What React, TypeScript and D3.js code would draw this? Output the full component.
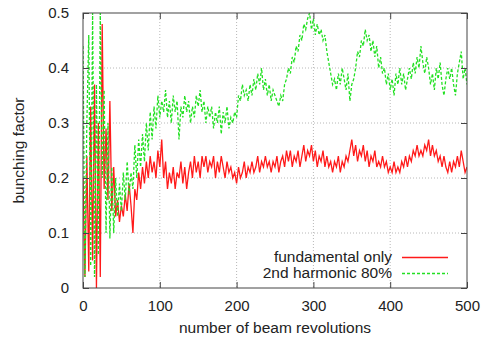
import React, { useEffect, useRef } from 'react'
import * as d3 from 'd3'

// revolutions sampled every 2.5
const revolutions = d3.range(0, 500.01, 2.5)

const fundamentalOnly = [
  0.20, 0.02, 0.24, 0.03, 0.33, 0.05, 0.37, 0.00, 0.30, 0.02,
  0.48, 0.18, 0.29, 0.16, 0.34, 0.14, 0.22, 0.13, 0.16, 0.12,
  0.15, 0.13, 0.17, 0.14, 0.19, 0.15, 0.10, 0.18, 0.16, 0.21,
  0.18, 0.22, 0.19, 0.23, 0.20, 0.24, 0.21, 0.23, 0.20, 0.25,
  0.22, 0.27, 0.20, 0.23, 0.18, 0.21, 0.19, 0.22, 0.18, 0.21,
  0.20, 0.23, 0.19, 0.22, 0.18, 0.21, 0.23, 0.20, 0.24, 0.21,
  0.23, 0.20, 0.24, 0.22, 0.24, 0.21, 0.23, 0.22, 0.24, 0.20,
  0.23, 0.21, 0.24, 0.22, 0.20, 0.23, 0.21, 0.22, 0.20, 0.21,
  0.19, 0.22, 0.20, 0.21, 0.23, 0.20, 0.22, 0.21, 0.23, 0.21,
  0.22, 0.24, 0.21, 0.23, 0.22, 0.24, 0.22, 0.23, 0.21, 0.23,
  0.22, 0.24, 0.21, 0.23, 0.24, 0.22, 0.25, 0.23, 0.25, 0.22,
  0.24, 0.23, 0.25, 0.22, 0.24, 0.26, 0.23, 0.25, 0.24, 0.26,
  0.23, 0.25, 0.22, 0.24, 0.23, 0.25, 0.22, 0.24, 0.22, 0.23,
  0.21, 0.23, 0.22, 0.24, 0.21, 0.23, 0.22, 0.24, 0.23, 0.25,
  0.27, 0.24, 0.26, 0.23, 0.25, 0.24, 0.26, 0.23, 0.25, 0.22,
  0.24, 0.23, 0.25, 0.22, 0.23, 0.22, 0.24, 0.22, 0.23, 0.21,
  0.22, 0.21, 0.23, 0.21, 0.22, 0.21, 0.23, 0.22, 0.24, 0.22,
  0.24, 0.23, 0.25, 0.24, 0.26, 0.24, 0.25, 0.24, 0.26, 0.25,
  0.27, 0.24, 0.26, 0.24, 0.25, 0.23, 0.24, 0.22, 0.24, 0.22,
  0.21, 0.23, 0.21, 0.23, 0.22, 0.24, 0.22, 0.25, 0.23, 0.21,
  0.22
]

const secondHarmonic = [
  0.44, 0.02, 0.30, 0.46, 0.04, 0.50, 0.02, 0.37, 0.06, 0.50,
  0.20, 0.36, 0.10, 0.30, 0.09, 0.22, 0.10, 0.20, 0.13, 0.19,
  0.14, 0.21, 0.16, 0.23, 0.17, 0.21, 0.18, 0.26, 0.20, 0.27,
  0.22, 0.28, 0.23, 0.30, 0.25, 0.32, 0.27, 0.33, 0.29, 0.35,
  0.31, 0.34, 0.32, 0.36, 0.31, 0.34, 0.30, 0.35, 0.32, 0.34,
  0.27, 0.33, 0.31, 0.35, 0.32, 0.34, 0.30, 0.33, 0.31, 0.35,
  0.33, 0.36, 0.32, 0.34, 0.30, 0.33, 0.31, 0.33, 0.29, 0.32,
  0.30, 0.33, 0.28, 0.32, 0.30, 0.33, 0.29, 0.31, 0.30, 0.32,
  0.31, 0.35, 0.34, 0.37, 0.35, 0.36, 0.34, 0.37, 0.35, 0.38,
  0.36, 0.39, 0.37, 0.40, 0.36, 0.38, 0.35, 0.37, 0.34, 0.36,
  0.35, 0.34, 0.33, 0.35, 0.34, 0.37, 0.38, 0.40, 0.39, 0.42,
  0.41, 0.44, 0.43, 0.46, 0.45, 0.48, 0.47, 0.49, 0.50, 0.47,
  0.49, 0.46, 0.48, 0.46, 0.47, 0.45, 0.46, 0.43, 0.41, 0.39,
  0.37, 0.38, 0.36, 0.39, 0.37, 0.40, 0.38, 0.36, 0.39, 0.34,
  0.37, 0.38, 0.40, 0.43, 0.42, 0.45, 0.44, 0.47, 0.45, 0.46,
  0.43, 0.45, 0.42, 0.44, 0.40, 0.42, 0.39, 0.40, 0.37, 0.39,
  0.36, 0.38, 0.35, 0.39, 0.37, 0.40, 0.37, 0.39, 0.36, 0.38,
  0.40, 0.38, 0.41, 0.39, 0.42, 0.40, 0.44, 0.41, 0.39, 0.42,
  0.40, 0.37, 0.39, 0.36, 0.40, 0.38, 0.41, 0.37, 0.35, 0.38,
  0.40, 0.38, 0.40, 0.37, 0.35, 0.39, 0.41, 0.43, 0.38, 0.40,
  0.37
]

const xTicks = [0, 100, 200, 300, 400, 500]
const yTicks = [0, 0.1, 0.2, 0.3, 0.4, 0.5]
const seriesNames = ['fundamental only', '2nd harmonic 80%']

const font = '"Liberation Sans", Arial, Helvetica, sans-serif'

function Chart() {
  const ref = useRef<SVGSVGElement>(null)

  useEffect(() => {
    const width = 487
    const height = 338
    const margins = { t: 13, r: 20, b: 50, l: 83 }
    const plotwidth = width - margins.l - margins.r
    const plotheight = height - margins.t - margins.b

    const svg = d3.select(ref.current)
    svg.selectAll('*').remove()

    const xScale = d3.scaleLinear().domain([0, 500]).range([0, plotwidth])
    const yScale = d3.scaleLinear().domain([0, 0.5]).range([plotheight, 0])

    const g = svg.append('g').attr('transform', `translate(${margins.l}, ${margins.t})`)

    // grid
    g.selectAll('.gx').data(xTicks.slice(1, -1)).join('line')
      .attr('class', 'gx')
      .attr('x1', d => xScale(d)).attr('x2', d => xScale(d))
      .attr('y1', 0).attr('y2', plotheight)
      .attr('stroke', '#b8b8b8').attr('stroke-dasharray', '1,2')
    g.selectAll('.gy').data(yTicks.slice(1, -1)).join('line')
      .attr('class', 'gy')
      .attr('y1', d => yScale(d)).attr('y2', d => yScale(d))
      .attr('x1', 0).attr('x2', plotwidth)
      .attr('stroke', '#b8b8b8').attr('stroke-dasharray', '1,2')

    g.append('clipPath').attr('id', 'plotclip')
      .append('rect').attr('width', plotwidth).attr('height', plotheight + 1).attr('y', -1)

    const line = d3.line<number>()
      .x((d, i) => xScale(revolutions[i]))
      .y(d => yScale(d))

    g.append('path')
      .datum(fundamentalOnly)
      .attr('clip-path', 'url(#plotclip)')
      .attr('d', line)
      .attr('fill', 'none')
      .attr('stroke', '#ff1a1a')
      .attr('stroke-width', 1.3)

    g.append('path')
      .datum(secondHarmonic)
      .attr('clip-path', 'url(#plotclip)')
      .attr('d', line)
      .attr('fill', 'none')
      .attr('stroke', '#22e022')
      .attr('stroke-width', 1.3)
      .attr('stroke-dasharray', '3,2')

    // axes with inward ticks on all sides
    const tk = 6
    const bottom = g.append('g').attr('transform', `translate(0, ${plotheight})`)
      .call(d3.axisBottom(xScale).tickValues(xTicks).tickSize(-tk).tickSizeOuter(0).tickPadding(12))
    const top = g.append('g')
      .call(d3.axisTop(xScale).tickValues(xTicks).tickSize(-tk).tickSizeOuter(0).tickFormat(() => ''))
    const left = g.append('g')
      .call(d3.axisLeft(yScale).tickValues(yTicks).tickSize(-tk).tickSizeOuter(0).tickPadding(14)
        .tickFormat(d3.format('.1~f')))
    const right = g.append('g').attr('transform', `translate(${plotwidth}, 0)`)
      .call(d3.axisRight(yScale).tickValues(yTicks).tickSize(-tk).tickSizeOuter(0).tickFormat(() => ''))

    ;[bottom, top, left, right].forEach(a => {
      a.select('.domain').remove()
      a.selectAll('line').attr('stroke', '#444')
      a.selectAll('text').attr('font-family', font).attr('font-size', 15).attr('fill', '#222')
    })
    left.selectAll('text').text((d: any) => (d === 0 ? '0' : d3.format('.1f')(d)))

    g.append('rect')
      .attr('width', plotwidth).attr('height', plotheight)
      .attr('fill', 'none').attr('stroke', '#444').attr('stroke-width', 1)

    // axis labels
    svg.append('text')
      .attr('x', margins.l + plotwidth / 2).attr('y', 333)
      .attr('text-anchor', 'middle')
      .attr('font-family', font).attr('font-size', 15.5).attr('fill', '#222')
      .text('number of beam revolutions')
    svg.append('text')
      .attr('transform', `translate(24, ${margins.t + plotheight / 2}) rotate(-90)`)
      .attr('text-anchor', 'middle')
      .attr('font-family', font).attr('font-size', 15.5).attr('fill', '#222')
      .text('bunching factor')

    // legend
    const colors = ['#ff1a1a', '#22e022']
    const legend = svg.append('g')
    legend.selectAll('text').data(seriesNames).join('text')
      .attr('x', 392).attr('y', (d, i) => 262 + i * 16)
      .attr('text-anchor', 'end')
      .attr('font-family', font).attr('font-size', 15.5).attr('fill', '#222')
      .text(d => d)
    legend.selectAll('line').data(seriesNames).join('line')
      .attr('x1', 402).attr('x2', 448)
      .attr('y1', (d, i) => 257.5 + i * 16).attr('y2', (d, i) => 257.5 + i * 16)
      .attr('stroke', (d, i) => colors[i])
      .attr('stroke-width', 1.3)
      .attr('stroke-dasharray', (d, i) => (i === 1 ? '3,2' : null))
  }, [])

  return <svg ref={ref} width={487} height={338} style={{ position: 'absolute', left: 0, top: 0, background: '#fff' }} />
}

export default function App() {
  return <Chart />
}
